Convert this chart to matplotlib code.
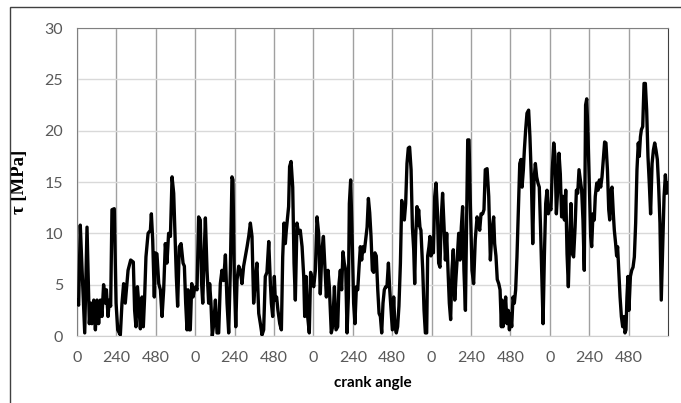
import matplotlib
matplotlib.use('Agg')
import matplotlib.pyplot as plt
from matplotlib.patches import Rectangle

# crank angle (cumulative over 5 cycles of 720 deg) and shear stress tau [MPa]
angle = [0, 10, 20, 31, 47, 61, 75, 85, 91, 102, 112, 122, 132, 142, 152, 162, 173, 179, 189, 197,
         205, 213, 227, 238, 248, 264, 274, 284, 294, 311, 327, 343, 351, 359, 368, 376, 386, 396, 404, 412,
         420, 433, 447, 453, 461, 471, 477,
         487, 498, 508, 518, 528, 538, 548, 558, 569, 579, 589, 599, 605, 613, 623, 634, 646, 654, 662, 670,
         676, 684, 690, 699, 707, 715, 723, 731, 741, 751, 759, 766, 774, 782, 792, 802, 808, 816, 824, 833,
         843, 853, 863, 873, 883, 893, 904, 914, 924, 934, 944, 950, 958, 967, 975, 985, 995, 1005, 1015,
         1025, 1036,
         1046, 1056, 1066, 1076, 1086, 1096, 1107, 1117, 1127, 1137, 1147, 1157, 1168, 1178, 1184, 1192,
         1202, 1208, 1216, 1224, 1235, 1245, 1253, 1261, 1269, 1275, 1283, 1289, 1295, 1304, 1314, 1322,
         1330, 1340, 1350, 1360, 1371, 1381, 1387, 1395, 1405, 1415, 1423, 1432, 1442, 1452, 1462, 1472,
         1482, 1492, 1501, 1509, 1519, 1529, 1537, 1549,
         1557, 1568, 1578, 1588, 1596, 1604, 1612, 1620, 1628, 1637, 1645, 1653, 1659, 1667, 1675, 1685,
         1693, 1702, 1710, 1718, 1726, 1734, 1742, 1750, 1758, 1767, 1775, 1783, 1791, 1799, 1807, 1815,
         1823, 1832, 1840, 1848, 1856, 1864, 1872, 1880, 1888, 1897, 1905, 1913, 1921, 1929, 1937, 1945,
         1953, 1961, 1970, 1978, 1986, 1994, 2002, 2010, 2018, 2026, 2035, 2043, 2051, 2057, 2063, 2071,
         2075, 2081, 2089, 2095, 2106, 2114, 2122, 2130, 2136, 2144, 2150, 2156, 2162, 2171, 2179, 2187,
         2195, 2203, 2211, 2219, 2227, 2236, 2244, 2252, 2260, 2268, 2276, 2284, 2292, 2301, 2309, 2317,
         2325, 2333, 2341, 2349, 2357, 2366, 2374, 2380, 2388, 2396, 2406, 2416, 2426, 2437, 2445, 2453,
         2461, 2471, 2479, 2487, 2498, 2508, 2518, 2528, 2538, 2544, 2552, 2560, 2569, 2577, 2585,
         2589, 2595, 2603, 2611, 2619, 2627, 2634, 2640, 2648, 2656, 2664, 2672, 2680, 2688, 2697, 2705,
         2711, 2719, 2725, 2733, 2741, 2751, 2759, 2768, 2776, 2784, 2792, 2800, 2808, 2816, 2824, 2833,
         2839, 2847, 2855, 2863, 2871, 2879, 2887, 2895, 2904, 2912, 2920, 2928, 2936, 2944, 2952, 2960,
         2969, 2977, 2985, 2993, 3001, 3009, 3017, 3025, 3034, 3042, 3050, 3058, 3066, 3074, 3082, 3090,
         3098,
         3105, 3113, 3121, 3129, 3135, 3143, 3151, 3157, 3166, 3174, 3182, 3190, 3198, 3206, 3214, 3222,
         3231, 3239, 3245, 3253, 3259, 3267, 3273, 3281, 3287, 3293, 3300, 3308, 3316, 3324, 3332, 3338,
         3344, 3350, 3356, 3362, 3371, 3379, 3387, 3395, 3403, 3411, 3419, 3425, 3432, 3438, 3446, 3454,
         3462, 3470, 3478, 3486, 3494, 3503, 3511, 3519, 3527, 3535, 3543, 3551, 3559, 3568, 3576, 3584,
         3592, 3600]

tau = [3.5, 3.0, 10.8, 6.4, 0.3, 10.6, 1.2, 3.2, 1.2, 3.5, 0.6, 3.5, 1.2, 3.5, 1.9, 5.0, 3.2, 4.5, 1.9, 3.5,
       2.9, 12.3, 12.4, 3.2, 0.6, 0.1, 3.2, 5.1, 3.2, 6.4, 7.4, 7.2, 2.5, 0.9, 4.8, 3.2, 0.7, 3.8, 0.9, 3.8,
       7.7, 10.0, 10.3, 11.9, 9.4, 3.8, 8.1,
       8.0, 5.1, 4.5, 1.9, 4.5, 9.0, 7.1, 10.0, 9.7, 15.5, 13.9, 9.0, 5.8, 2.9, 8.7, 9.0, 7.1, 6.8, 3.2, 0.6,
       4.5, 0.6, 0.6, 5.1, 3.8, 4.5, 4.8, 4.5, 11.6, 11.3, 5.1, 3.2, 7.7, 11.5, 6.4, 3.2, 5.1, 3.2, 0.0, 1.2,
       3.5, 0.3, 0.3, 5.1, 6.4, 5.4, 7.9, 3.2, 0.3, 6.4, 15.5, 15.2, 5.8, 0.9, 5.5, 6.8, 6.4, 5.1, 6.8,
       7.7, 8.7,
       9.7, 11.0, 9.7, 3.2, 5.4, 7.1, 2.2, 1.2, 0.1, 0.6, 5.8, 6.2, 9.2, 5.1, 3.2, 1.9,
       5.8, 3.5, 3.8, 2.5, 1.2, 0.6, 7.7, 11.0, 9.0, 10.3, 11.6, 12.6, 16.5, 17.0, 14.5, 7.1,
       3.5, 11.0, 10.0, 10.3, 8.7, 5.8, 1.9, 5.8, 1.9, 0.3, 6.2, 5.5, 4.8, 6.4, 11.6, 10.0,
       4.1, 8.4, 9.7, 7.1, 3.8, 6.4, 4.8, 0.3,
       0.9, 4.8, 0.6, 0.9, 5.1, 6.4, 4.5, 8.2, 7.1, 6.4, 0.3, 3.8, 12.9, 15.2, 10.3, 3.2,
       1.2, 4.8, 4.5, 6.7, 8.7, 7.4, 8.7, 8.2, 9.3, 10.6, 13.4, 12.0, 9.7, 6.4, 6.2, 8.1,
       7.8, 4.5, 2.2, 1.9, 0.3, 3.2, 4.5, 4.8, 4.8, 7.1, 4.5, 2.5, 0.6, 3.8, 0.9, 0.3,
       0.9, 2.9, 7.1, 13.2, 11.9, 11.3, 12.9, 16.8, 18.3, 18.4, 16.2, 10.6, 8.4, 5.1, 9.7, 12.6,
       10.8, 12.3, 10.6, 10.3, 6.4, 2.5, 0.3, 0.3, 7.8, 8.7, 9.7, 7.8, 8.2, 8.1, 13.6, 14.9,
       12.3, 7.1, 6.7, 11.6, 13.9, 10.6, 7.4, 10.0, 6.4, 3.2, 1.6, 6.4, 8.4, 3.5, 5.8, 7.8,
       10.0, 7.4, 10.6, 12.6, 6.4, 2.5, 12.3, 19.1, 19.1, 12.9, 6.4, 5.1, 9.4, 11.6, 11.0, 10.3,
       11.9, 11.9, 12.3, 16.2, 16.3, 13.6, 7.4, 10.3, 11.6, 9.0, 7.8, 5.5, 5.1, 4.5, 0.9,
       3.5, 0.9, 1.9, 3.8, 1.2, 2.5, 0.6, 2.2, 0.9, 3.8, 3.2, 4.5, 7.7, 11.9, 16.8, 17.2,
       14.5, 16.2, 18.1, 20.1, 21.7, 22.0, 19.4, 15.2, 9.0, 15.2, 16.8, 15.5, 14.9, 14.5, 10.3, 4.8,
       1.2, 7.8, 12.9, 14.2, 11.9, 12.6, 12.3, 16.2, 18.8, 17.5, 11.9, 14.2, 17.8, 15.8, 11.6, 13.6,
       11.3, 14.2, 8.0, 4.8, 9.3, 12.9, 8.0, 7.7, 10.6, 14.2, 13.9, 16.2, 15.2, 14.2, 11.3, 6.4,
       22.5,
       23.1, 19.4, 14.5, 9.7, 8.7, 11.9, 11.3, 13.6, 14.9, 14.2, 15.2, 14.5, 15.5, 17.2, 18.9, 18.8,
       16.2, 12.3, 11.3, 14.2, 14.5, 11.9, 10.3, 9.0, 7.8, 8.7, 6.4, 3.8, 1.9, 0.9, 1.9, 0.3,
       0.6, 3.8, 5.8, 2.5, 5.8, 6.4, 6.7, 7.7, 11.0, 16.2, 18.8, 17.5, 19.4, 20.1, 20.4, 24.6,
       24.6, 22.0, 17.5, 14.9, 11.9, 16.8, 18.1, 18.8, 18.1, 17.2, 14.6, 11.0, 3.5, 8.7, 13.6, 15.7,
       13.9, 14.9]

tick_pos = list(range(0, 3600, 240))
tick_lab = [str(p % 720) for p in tick_pos]

fig = plt.figure(figsize=(6.81, 4.03), dpi=100)
ax = fig.add_axes([77/681, 67/403, 591/681, 308/403])

# outer chart frame
fig.patches.append(Rectangle((10/681, -0.1), 1.2, 0.1 + 396/403, transform=fig.transFigure,
                             fill=False, edgecolor='#404040', linewidth=1.0))

ax.plot(angle, tau, color='black', linewidth=2.4, solid_joinstyle='round', zorder=3)

ax.set_xlim(0, 3600)
ax.set_ylim(0, 30)
ax.set_yticks(range(0, 31, 5))
ax.set_xticks(tick_pos)
ax.set_xticklabels(tick_lab)

ax.yaxis.grid(True, color='#d9d9d9', linewidth=1.0)
ax.xaxis.grid(True, color='#a0a0a0', linewidth=1.0)
ax.set_axisbelow(True)

ax.tick_params(axis='both', length=0, labelsize=11.5, labelcolor='#595959')
ax.tick_params(axis='x', pad=11)
ax.tick_params(axis='y', pad=10)
for lab in ax.get_xticklabels() + ax.get_yticklabels():
    lab.set_fontfamily('Lato')

ax.spines['left'].set_color('#808080')
ax.spines['top'].set_color('#808080')
ax.spines['right'].set_color('#404040')
ax.spines['bottom'].set_color('#d0d0d0')

ax.set_xlabel('crank angle', fontfamily='Lato', fontweight='bold', fontsize=11, labelpad=8)
ax.set_ylabel('τ [MPa]', fontfamily='Liberation Serif', fontweight='bold', fontsize=13.5,
              labelpad=12)

fig.savefig('out.png', dpi=100)
